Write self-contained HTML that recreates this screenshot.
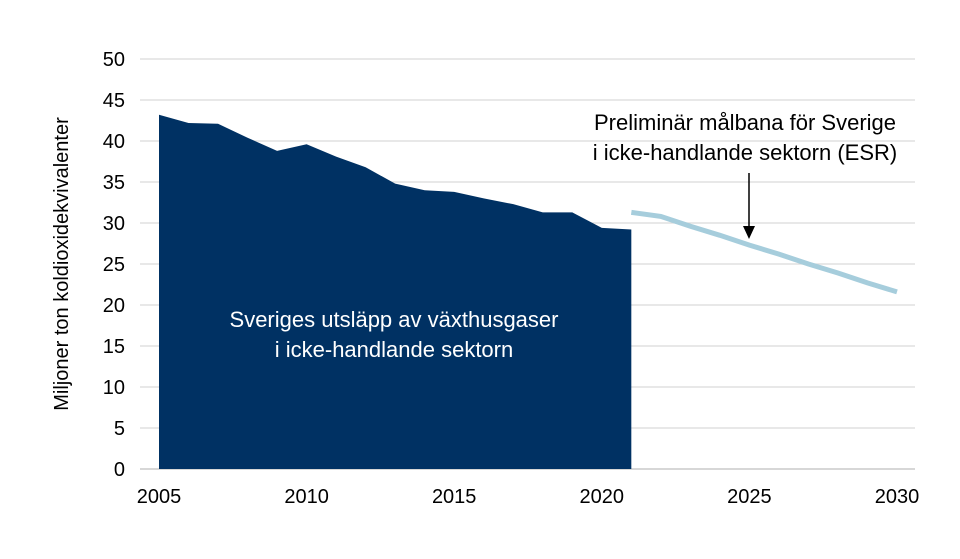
<!DOCTYPE html>
<html><head><meta charset="utf-8"><style>
body{margin:0;background:#fff;}
svg text{font-family:"Liberation Sans",sans-serif;}
</style></head><body>
<svg width="960" height="554" viewBox="0 0 960 554">
<g id="grid"></g>
<g id="yticks"></g>
<g id="xticks"></g>
<path id="area" fill="#003163"></path>
<path id="line" fill="none" stroke="#a6cddc" stroke-width="5"></path>
<text x="0" y="0" transform="translate(68,264) rotate(-90)" text-anchor="middle" font-size="20" fill="#000">Miljoner ton koldioxidekvivalenter</text>
<text x="394" y="327" text-anchor="middle" font-size="22" fill="#fff">Sveriges utsläpp av växthusgaser</text>
<text x="394" y="357" text-anchor="middle" font-size="22" fill="#fff">i icke-handlande sektorn</text>
<text x="745" y="130" text-anchor="middle" font-size="22" fill="#000">Preliminär målbana för Sverige</text>
<text x="745" y="160" text-anchor="middle" font-size="22" fill="#000">i icke-handlande sektorn (ESR)</text>
<line x1="749" y1="173" x2="749" y2="228" stroke="#000" stroke-width="1.5"/>
<polygon points="743,226 755,226 749,239" fill="#000"/>
</svg>
<script>
const areaYears=[2005,2006,2007,2008,2009,2010,2011,2012,2013,2014,2015,2016,2017,2018,2019,2020,2021];
const areaValues=[43.2,42.2,42.1,40.4,38.8,39.6,38.1,36.8,34.8,34.0,33.8,33.0,32.3,31.3,31.3,29.4,29.2];
const lineYears=[2021,2022,2023,2024,2025,2026,2027,2028,2029,2030];
const lineValues=[31.3,30.8,29.6,28.5,27.3,26.2,25.0,23.9,22.7,21.6];
const yTicks=[0,5,10,15,20,25,30,35,40,45,50];
const xTicks=[2005,2010,2015,2020,2025,2030];
const X=y=>159+(y-2005)*29.52;
const Y=v=>469-v*8.2;
const ns="http://www.w3.org/2000/svg";
const grid=document.getElementById('grid'),yt=document.getElementById('yticks'),xt=document.getElementById('xticks');
yTicks.forEach(t=>{
 const l=document.createElementNS(ns,'line');
 l.setAttribute('x1',140);l.setAttribute('x2',915);l.setAttribute('y1',Y(t));l.setAttribute('y2',Y(t));
 l.setAttribute('stroke',t===0?'#bfbfbf':'#d9d9d9');l.setAttribute('stroke-width',1.3);
 
 
 grid.appendChild(l);
 const tx=document.createElementNS(ns,'text');
 tx.setAttribute('x',125);tx.setAttribute('y',Y(t)+7);tx.setAttribute('text-anchor','end');tx.setAttribute('font-size',20);
 tx.textContent=t;
 
 
 yt.appendChild(tx);
});
xTicks.forEach(t=>{
 const tx=document.createElementNS(ns,'text');
 tx.setAttribute('x',X(t));tx.setAttribute('y',503);tx.setAttribute('text-anchor','middle');tx.setAttribute('font-size',20);
 tx.textContent=t;
 
 
 xt.appendChild(tx);
});
let d='M'+X(areaYears[0])+','+Y(0);
areaYears.forEach((yr,i)=>{d+=' L'+X(yr)+','+Y(areaValues[i]);});
d+=' L'+X(areaYears[areaYears.length-1])+','+Y(0)+' Z';
document.getElementById('area').setAttribute('d',d);
document.getElementById('line').setAttribute('d',lineYears.map((yr,i)=>(i?'L':'M')+X(yr)+','+Y(lineValues[i])).join(' '));
</script>
</body></html>
